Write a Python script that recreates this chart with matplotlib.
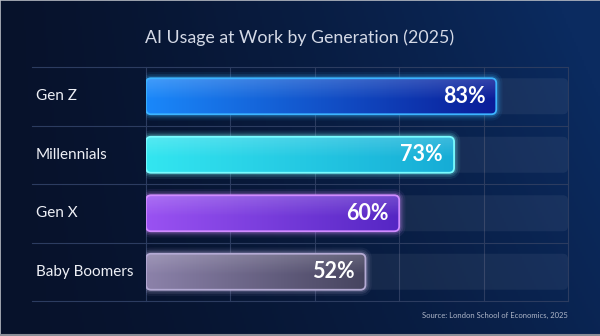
import matplotlib.pyplot as plt
import numpy as np
from matplotlib.patches import FancyBboxPatch
from matplotlib.colors import LinearSegmentedColormap, to_rgb

plt.rcParams['font.family'] = ['Lato', 'DejaVu Sans']

# 세대별 업무 중 AI 사용 비율
generations = ['Gen Z', 'Millennials', 'Gen X', 'Baby Boomers']
usage = [83, 73, 60, 52]
value_labels = ['83%', '73%', '60%', '52%']

# 막대별 색 (왼쪽, 오른쪽, 테두리)
bar_left = ['#1a88fa', '#33e6f0', '#9a52f2', '#8c82aa']
bar_right = ['#0a1c98', '#16acd6', '#5526c4', '#46445f']
bar_edge = ['#3cb4ff', '#7afcff', '#d08cff', '#b4aad4']

W, H = 600, 336
fig = plt.figure(figsize=(W / 100, H / 100), dpi=100)

# 배경 그라데이션
bg = fig.add_axes([0, 0, 1, 1])
bg.set_axis_off()
xx, yy = np.meshgrid(np.linspace(0, 1, 300), np.linspace(0, 1, 168))
t = np.clip(0.75 * xx ** 1.5 + 0.35 * (1 - yy) * xx, 0, 1)
c0 = np.array(to_rgb('#07122b'))
c1 = np.array(to_rgb('#0b2b60'))
img = c0 + (c1 - c0) * t[..., None]
bg.imshow(img, extent=[0, 1, 0, 1], aspect='auto', origin='upper')
bg.set_xlim(0, 1)
bg.set_ylim(0, 1)
# 얇은 테두리
bg.plot([0, 0, 1], [0, 1, 1], color='#b8bcc4', lw=1.2, transform=bg.transAxes, clip_on=False)
bg.plot([0, 1], [0.002, 0.002], color='#8a8e98', lw=1.5, transform=bg.transAxes)

ax = fig.add_axes([146 / W, 1 - 301 / H, 422 / W, 234 / H])
ax.set_xlim(0, 100)
ax.set_ylim(3.5, -0.5)
ax.set_axis_off()
ax.patch.set_alpha(0)

grid_c = '#2c3c60'
for gy in np.arange(-0.5, 4.0, 1.0):
    ax.plot([-27, 100], [gy, gy], color=grid_c, lw=0.8, clip_on=False, zorder=1)
for gx in range(0, 101, 20):
    ax.plot([gx, gx], [-0.5, 3.5], color=grid_c, lw=0.8, clip_on=False, zorder=1)

px_x = 100 / 422
px_y = 4 / 234
asp = px_y / px_x
rad = 5 * px_x
bh = 36 * px_y

for i, (name, v) in enumerate(zip(generations, usage)):
    y0 = i - bh / 2
    # 배경 트랙
    track = FancyBboxPatch((0, y0), 100, bh,
                           boxstyle=f'round,pad=0,rounding_size={rad}',
                           mutation_aspect=asp, fc='#ffffff', alpha=0.06,
                           ec='none', zorder=2)
    ax.add_patch(track)

    # 빛 번짐
    for k, lw in enumerate([9, 6, 3.5]):
        glow = FancyBboxPatch((0, y0), v, bh,
                              boxstyle=f'round,pad=0,rounding_size={rad}',
                              mutation_aspect=asp, fc='none',
                              ec=bar_edge[i], lw=lw, alpha=0.07 + 0.06 * k,
                              zorder=3)
        ax.add_patch(glow)

    body = FancyBboxPatch((0, y0), v, bh,
                          boxstyle=f'round,pad=0,rounding_size={rad}',
                          mutation_aspect=asp, fc='none', ec='none', zorder=4)
    ax.add_patch(body)
    cmap = LinearSegmentedColormap.from_list(name, [bar_left[i], bar_right[i]])
    grad = np.linspace(0, 1, 256).reshape(1, -1)
    im = ax.imshow(grad, cmap=cmap, extent=[0, v, y0 + bh, y0], aspect='auto',
                   zorder=4, interpolation='bilinear')
    im.set_clip_path(body)
    # 위쪽 하이라이트
    hl = np.linspace(0.18, 0, 64).reshape(-1, 1)
    hl_img = np.ones((64, 1, 4))
    hl_img[..., 3] = hl
    im2 = ax.imshow(hl_img, extent=[0, v, y0 + bh * 0.6, y0], aspect='auto', zorder=5)
    im2.set_clip_path(body)

    edge = FancyBboxPatch((0, y0), v, bh,
                          boxstyle=f'round,pad=0,rounding_size={rad}',
                          mutation_aspect=asp, fc='none', ec=bar_edge[i],
                          lw=1.3, zorder=6)
    ax.add_patch(edge)

    ax.text(v - 11 * px_x, i, value_labels[i], ha='right', va='center',
            color='white', fontsize=15.5, fontweight='bold', zorder=7)
    ax.text(-110 * px_x, i, name, ha='left', va='center', color='#eef0f6',
            fontsize=11, clip_on=False, zorder=7)

ax.set_xlim(0, 100)
ax.set_ylim(3.5, -0.5)

fig.text(0.5, 1 - 38 / H, 'AI Usage at Work by Generation (2025)', ha='center',
         va='center', color='#d4d9e6', fontsize=12.8)
fig.text(568 / W, 1 - 315 / H, 'Source: London School of Economics, 2025',
         ha='right', va='center', color='#aeb6c8', fontsize=5.5)

fig.savefig('out.png', dpi=100)
